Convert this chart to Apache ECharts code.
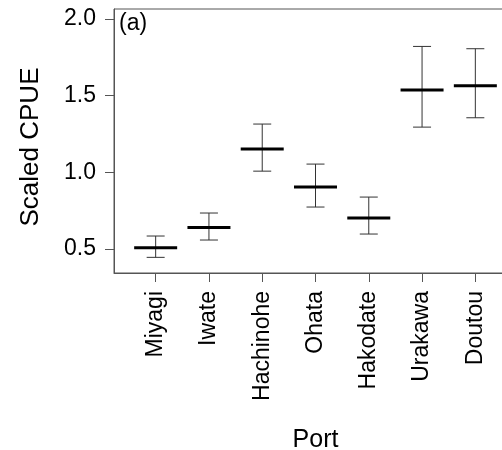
<!DOCTYPE html>
<html>
<head>
<meta charset="utf-8">
<script src="https://cdn.jsdelivr.net/npm/echarts@6/dist/echarts.min.js"></script>
<style>
  html, body { margin: 0; padding: 0; background: #fff; }
  #chart { width: 502px; height: 450px; }
</style>
</head>
<body>
<div id="chart"></div>
<script>
// values
const ports = ['Miyagi', 'Iwate', 'Hachinohe', 'Ohata', 'Hakodate', 'Urakawa', 'Doutou']
const meanCpue = [0.508, 0.641, 1.152, 0.904, 0.702, 1.537, 1.565]
const lowerCpue = [0.446, 0.559, 1.008, 0.774, 0.598, 1.295, 1.356]
const upperCpue = [0.585, 0.735, 1.315, 1.054, 0.839, 1.821, 1.806]
const yTicks = [0.5, 1.0, 1.5, 2.0]
const xTicks = [1, 2, 3, 4, 5, 6, 7]

const font = 'Liberation Sans, Arial, sans-serif'
const chart = echarts.init(document.getElementById('chart'))

const seriesData = ports.map((p, i) => [i + 1, meanCpue[i], lowerCpue[i], upperCpue[i]])

const option = {
  animation: false,
  title: {
    text: '(a)',
    left: 119,
    top: 12,
    padding: 0,
    textStyle: { fontFamily: font, fontSize: 23, fontWeight: 'normal', color: '#000' }
  },
  grid: {
    left: 114,
    top: 9,
    width: 403,
    height: 264,
    outerBoundsMode: 'none',
    containLabel: false,
    show: true,
    borderColor: '#555',
    borderWidth: 1
  },
  xAxis: {
    type: 'value',
    min: 0.218,
    max: 7.782,
    name: 'Port',
    nameLocation: 'middle',
    nameGap: 155,
    nameTextStyle: { fontFamily: font, fontSize: 25, color: '#000', verticalAlign: 'top' },
    splitLine: { show: false },
    axisLine: { onZero: false, lineStyle: { color: '#555' } },
    axisTick: { customValues: xTicks, length: 9, lineStyle: { color: '#555' } },
    axisLabel: {
      customValues: xTicks,
      rotate: 90,
      margin: 18,
      fontFamily: font,
      fontSize: 23,
      color: '#000',
      formatter: v => ports[Math.round(v) - 1]
    }
  },
  yAxis: {
    type: 'value',
    min: 0.344,
    max: 2.065,
    name: 'Scaled CPUE',
    nameLocation: 'middle',
    nameRotate: 90,
    nameGap: 70,
    nameTextStyle: { fontFamily: font, fontSize: 26, color: '#000', padding: [0, 12, 0, 0] },
    splitLine: { show: false },
    axisLine: { show: true, lineStyle: { color: '#555' } },
    axisTick: { show: true, customValues: yTicks, length: 9, lineStyle: { color: '#555' } },
    axisLabel: {
      customValues: yTicks,
      margin: 18,
      fontFamily: font,
      fontSize: 23,
      color: '#000',
      formatter: v => v.toFixed(1)
    }
  },
  series: [
    {
      type: 'custom',
      data: seriesData,
      renderItem: (params, api) => {
        const x = api.value(0)
        const mid = api.coord([x, api.value(1)])
        const lo = api.coord([x, api.value(2)])
        const hi = api.coord([x, api.value(3)])
        const cap = 9
        const half = 21.5
        const thin = { stroke: '#333', lineWidth: 1 }
        return {
          type: 'group',
          children: [
            { type: 'line', shape: { x1: lo[0], y1: lo[1], x2: hi[0], y2: hi[1] }, style: thin },
            { type: 'line', shape: { x1: lo[0] - cap, y1: lo[1], x2: lo[0] + cap, y2: lo[1] }, style: thin },
            { type: 'line', shape: { x1: hi[0] - cap, y1: hi[1], x2: hi[0] + cap, y2: hi[1] }, style: thin },
            {
              type: 'line',
              shape: { x1: mid[0] - half, y1: mid[1], x2: mid[0] + half, y2: mid[1] },
              style: { stroke: '#000', lineWidth: 3 }
            }
          ]
        }
      }
    }
  ]
}

chart.setOption(option)
</script>
</body>
</html>
